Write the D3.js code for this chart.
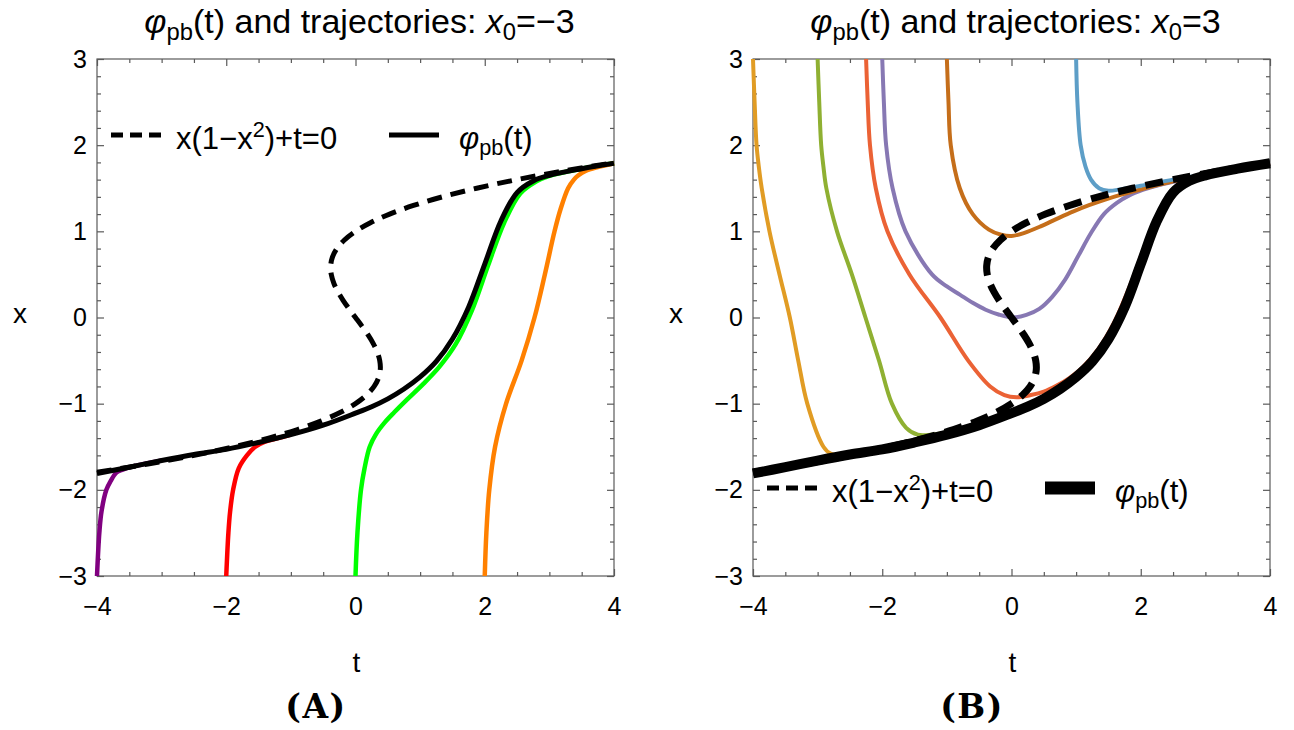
<!DOCTYPE html>
<html>
<head>
<meta charset="utf-8">
<script src="https://cdn.jsdelivr.net/npm/d3@7"></script>
<style>
body { margin: 0; background: white; }
</style>
</head>
<body>
<div id="main"></div>
<script>
// tick values
const tMajor = [-4, -2, 0, 2, 4];
const tMinor = [-3.5, -3, -2.5, -1.5, -1, -0.5, 0.5, 1, 1.5, 2.5, 3, 3.5];
const xMajor = [-3, -2, -1, 0, 1, 2, 3];
const xMinor = [-2.8, -2.6, -2.4, -2.2, -1.8, -1.6, -1.4, -1.2, -0.8, -0.6, -0.4, -0.2,
                0.2, 0.4, 0.6, 0.8, 1.2, 1.4, 1.6, 1.8, 2.2, 2.4, 2.6, 2.8];

// curves as [t, x] points
const criticalCurve = [[-4.0,-1.796],[-3.213,-1.7],[-2.496,-1.6],[-1.875,-1.5],[-1.344,-1.4],[-0.897,-1.3],
    [-0.528,-1.2],[-0.231,-1.1],[0,-1],[0.171,-0.9],[0.288,-0.8],[0.357,-0.7],[0.384,-0.6],[0.375,-0.5],
    [0.336,-0.4],[0.273,-0.3],[0.192,-0.2],[0.099,-0.1],[0,0],[-0.099,0.1],[-0.192,0.2],[-0.273,0.3],
    [-0.336,0.4],[-0.375,0.5],[-0.384,0.6],[-0.357,0.7],[-0.288,0.8],[-0.171,0.9],[0,1],[0.231,1.1],
    [0.528,1.2],[0.897,1.3],[1.344,1.4],[1.875,1.5],[2.496,1.6],[3.213,1.7],[4.0,1.796]];

const pullbackCurve = [[-4,-1.81],[-3.5,-1.737],[-3,-1.66],[-2.5,-1.59],[-2,-1.53],[-1.5,-1.45],[-1,-1.36],
    [-0.5,-1.25],[0,-1.11],[0.25,-1.035],[0.5,-0.944],[0.75,-0.83],[1,-0.69],[1.25,-0.51],[1.5,-0.25],
    [1.75,0.12],[2,0.62],[2.25,1.12],[2.5,1.45],[2.75,1.585],[3,1.65],[3.5,1.727],[4,1.79]];

// panel A: x0 = -3
const trajPurpleA = [[-4,-3],[-3.964,-2.5],[-3.93,-2.25],[-3.855,-2],[-3.79,-1.9],[-3.7,-1.8],[-3.6,-1.765],
    [-3.5,-1.74],[-3,-1.66]];
const trajRedA = [[-2,-3],[-1.967,-2.5],[-1.94,-2.25],[-1.894,-2],[-1.807,-1.75],[-1.68,-1.6],[-1.55,-1.5],
    [-1.4,-1.44],[-1.2,-1.4],[-1,-1.36]];
const trajGreenA = [[0,-3],[0.03,-2.5],[0.085,-2],[0.14,-1.75],[0.22,-1.5],[0.32,-1.35],[0.45,-1.22],[0.6,-1.1],
    [0.8,-0.95],[1.05,-0.77],[1.3,-0.57],[1.55,-0.31],[1.8,0.08],[2.05,0.6],[2.3,1.1],[2.55,1.44],[2.8,1.58],
    [3,1.645],[3.5,1.727],[4,1.79]];
const trajOrangeA = [[2,-3],[2.025,-2.5],[2.07,-2],[2.16,-1.5],[2.33,-1],[2.57,-0.5],[2.77,0],[2.93,0.5],[3.08,1],
    [3.17,1.25],[3.29,1.5],[3.38,1.6],[3.45,1.65],[3.56,1.7],[3.75,1.745],[4,1.79]];

// panel B: x0 = 3
const trajYellowB = [[-4,3],[-3.975,2.5],[-3.945,2],[-3.91,1.75],[-3.865,1.5],[-3.745,1],[-3.59,0.5],[-3.43,0],
    [-3.3,-0.5],[-3.16,-1],[-2.91,-1.5],[-2.8,-1.58],[-2.6,-1.6],[-2.3,-1.57],[-2,-1.52]];
const trajGreenB = [[-3,3],[-2.975,2.5],[-2.945,2],[-2.91,1.75],[-2.865,1.5],[-2.7,1],[-2.47,0.5],[-2.26,0],
    [-2.05,-0.5],[-1.85,-1],[-1.63,-1.28],[-1.45,-1.36],[-1.25,-1.36],[-1,-1.33]];
const trajRedB = [[-2.25,3],[-2.225,2.5],[-2.19,2],[-2.1,1.5],[-1.92,1],[-1.58,0.5],[-1.1,0],[-0.67,-0.5],
    [-0.33,-0.8],[-0.11,-0.9],[0.08,-0.925],[0.3,-0.9],[0.5,-0.86],[0.7,-0.79],[0.9,-0.7],[1.1,-0.58],
    [1.35,-0.36],[1.6,-0.04],[1.85,0.4],[2.1,0.9],[2.35,1.3],[2.6,1.52],[2.9,1.63],[3.5,1.727],[4,1.79]];
const trajPurpleB = [[-2,3],[-1.975,2.5],[-1.94,2],[-1.84,1.5],[-1.64,1],[-1.23,0.5],[-1.0,0.36],[-0.8,0.265],
    [-0.6,0.17],[-0.4,0.09],[-0.2,0.035],[0.03,0],[0.23,0.03],[0.43,0.1],[0.63,0.24],[0.83,0.44],[1.03,0.71],
    [1.23,0.98],[1.43,1.2],[1.63,1.33],[1.83,1.42],[2.03,1.48],[2.3,1.54],[2.6,1.59],[3,1.65],[3.5,1.727],[4,1.79]];
const trajBrownB = [[-1,3],[-0.975,2.5],[-0.94,2],[-0.8,1.5],[-0.6,1.2],[-0.35,1.02],[-0.16,0.96],[0,0.945],
    [0.2,0.983],[0.45,1.058],[0.7,1.145],[0.95,1.229],[1.2,1.304],[1.45,1.369],[1.7,1.426],[1.95,1.477],
    [2.2,1.525],[2.5,1.58],[3,1.65],[3.5,1.727],[4,1.79]];
const trajBlueB = [[1,3],[1.02,2.5],[1.07,2],[1.145,1.75],[1.23,1.6],[1.355,1.5],[1.5,1.47],[1.7,1.49],[2,1.53],
    [2.5,1.6],[3,1.66],[3.5,1.73],[4,1.79]];

const ctx = {
    width : 1294,
    height : 730,
    plotSize : 517,
    plotTop : 59,
    font : "'Liberation Sans', Arial, Helvetica, sans-serif",
    frameColor : "#5a5a5a",
    majorTick : 7,
    minorTick : 4
};

const panels = [
    {
        left : 97, x0 : "−3", letter : "(A)",
        trajectories : [
            {data : trajPurpleA, color : "#800080"},
            {data : trajRedA, color : "#ff0000"},
            {data : trajGreenA, color : "#00ff00"},
            {data : trajOrangeA, color : "#ff8000"}
        ],
        trajWidth : 4.5, dashWidth : 5, dash : "15,9", blackWidth : 5,
        legendY : 76, legendSolidWidth : 5
    },
    {
        left : 753, x0 : "3", letter : "(B)",
        trajectories : [
            {data : trajYellowB, color : "#e19c24"},
            {data : trajGreenB, color : "#8fb032"},
            {data : trajRedB, color : "#eb6235"},
            {data : trajPurpleB, color : "#8778b3"},
            {data : trajBrownB, color : "#c56e1a"},
            {data : trajBlueB, color : "#5d9ec7"}
        ],
        trajWidth : 4, dashWidth : 7, dash : "18,10", blackWidth : 10,
        legendY : 429, legendSolidWidth : 13
    }
];

function fmt(d){
    return d < 0 ? "\u2212" + Math.abs(d) : String(d);
}

function createViz(){
    let svg = d3.select("#main").append("svg")
        .attr("width", ctx.width)
        .attr("height", ctx.height);
    svg.append("rect")
        .attr("width", ctx.width)
        .attr("height", ctx.height)
        .attr("fill", "white");
    panels.forEach(p => drawPanel(svg, p));
}

function styleAxis(sel){
    sel.select(".domain").remove();
    sel.selectAll("line").attr("stroke", ctx.frameColor).attr("stroke-width", 1.2);
    sel.selectAll("text")
        .attr("font-family", ctx.font)
        .attr("font-size", 25)
        .attr("fill", "black");
}

function drawTicks(g, xs, ys){
    const s = ctx.plotSize;
    // bottom
    g.append("g").attr("transform", `translate(0,${s})`)
        .call(d3.axisBottom(xs).tickValues(tMajor).tickSizeInner(-ctx.majorTick).tickSizeOuter(0).tickPadding(21).tickFormat(fmt))
        .call(styleAxis);
    g.append("g").attr("transform", `translate(0,${s})`)
        .call(d3.axisBottom(xs).tickValues(tMinor).tickSizeInner(-ctx.minorTick).tickSizeOuter(0).tickFormat(""))
        .call(styleAxis);
    // top
    g.append("g")
        .call(d3.axisTop(xs).tickValues(tMajor).tickSizeInner(-ctx.majorTick).tickSizeOuter(0).tickFormat(""))
        .call(styleAxis);
    g.append("g")
        .call(d3.axisTop(xs).tickValues(tMinor).tickSizeInner(-ctx.minorTick).tickSizeOuter(0).tickFormat(""))
        .call(styleAxis);
    // left
    g.append("g")
        .call(d3.axisLeft(ys).tickValues(xMajor).tickSizeInner(-ctx.majorTick).tickSizeOuter(0).tickPadding(10).tickFormat(fmt))
        .call(styleAxis);
    g.append("g")
        .call(d3.axisLeft(ys).tickValues(xMinor).tickSizeInner(-ctx.minorTick).tickSizeOuter(0).tickFormat(""))
        .call(styleAxis);
    // right
    g.append("g").attr("transform", `translate(${s},0)`)
        .call(d3.axisRight(ys).tickValues(xMajor).tickSizeInner(-ctx.majorTick).tickSizeOuter(0).tickFormat(""))
        .call(styleAxis);
    g.append("g").attr("transform", `translate(${s},0)`)
        .call(d3.axisRight(ys).tickValues(xMinor).tickSizeInner(-ctx.minorTick).tickSizeOuter(0).tickFormat(""))
        .call(styleAxis);
}

function addPhi(text, size){
    text.append("tspan").attr("font-style", "italic").text("φ");
    text.append("tspan").attr("font-size", size * 0.7).attr("dy", size * 0.2).text("pb");
    text.append("tspan").attr("font-size", size).attr("dy", -size * 0.2).text("(t)");
}

function drawPanel(svg, p){
    const s = ctx.plotSize;
    let g = svg.append("g").attr("transform", `translate(${p.left}, ${ctx.plotTop})`);
    let xs = d3.scaleLinear().domain([-4, 4]).range([0, s]);
    let ys = d3.scaleLinear().domain([-3, 3]).range([s, 0]);
    let line = d3.line()
        .x(d => xs(d[0]))
        .y(d => ys(d[1]))
        .curve(d3.curveCatmullRom.alpha(0.5));

    g.append("rect")
        .attr("width", s)
        .attr("height", s)
        .attr("fill", "none")
        .attr("stroke", ctx.frameColor)
        .attr("stroke-width", 1.2);
    drawTicks(g, xs, ys);

    p.trajectories.forEach(tr => {
        g.append("path")
            .attr("d", line(tr.data))
            .attr("fill", "none")
            .attr("stroke", tr.color)
            .attr("stroke-width", p.trajWidth);
    });
    g.append("path")
        .attr("d", line(criticalCurve))
        .attr("fill", "none")
        .attr("stroke", "black")
        .attr("stroke-width", p.dashWidth)
        .attr("stroke-dasharray", p.dash);
    g.append("path")
        .attr("d", line(pullbackCurve))
        .attr("fill", "none")
        .attr("stroke", "black")
        .attr("stroke-width", p.blackWidth);

    // legend
    const ly = p.legendY, lsize = 31;
    g.append("line")
        .attr("x1", 14).attr("x2", 64).attr("y1", ly).attr("y2", ly)
        .attr("stroke", "black").attr("stroke-width", 5).attr("stroke-dasharray", "12,7");
    let eq = g.append("text")
        .attr("x", 79).attr("y", ly + 14)
        .attr("font-family", ctx.font).attr("font-size", lsize);
    eq.append("tspan").text("x(1−x");
    eq.append("tspan").attr("font-size", lsize * 0.7).attr("dy", -lsize * 0.38).text("2");
    eq.append("tspan").attr("font-size", lsize).attr("dy", lsize * 0.38).text(")+t=0");
    g.append("line")
        .attr("x1", 292).attr("x2", 342).attr("y1", ly).attr("y2", ly)
        .attr("stroke", "black").attr("stroke-width", p.legendSolidWidth);
    let ph = g.append("text")
        .attr("x", 362).attr("y", ly + 14)
        .attr("font-family", ctx.font).attr("font-size", lsize);
    addPhi(ph, lsize);

    // title
    const tsize = 34;
    let title = g.append("text")
        .attr("x", s / 2 + 4).attr("y", 33 - ctx.plotTop)
        .attr("text-anchor", "middle")
        .attr("font-family", ctx.font).attr("font-size", tsize);
    addPhi(title, tsize);
    title.append("tspan").text(" and trajectories: ");
    title.append("tspan").attr("font-style", "italic").text("x");
    title.append("tspan").attr("font-size", tsize * 0.7).attr("dy", tsize * 0.2).text("0");
    title.append("tspan").attr("font-size", tsize).attr("dy", -tsize * 0.2).text("=" + p.x0);

    // axis labels
    g.append("text")
        .attr("x", s / 2 + 1).attr("y", 613)
        .attr("text-anchor", "middle")
        .attr("font-family", ctx.font).attr("font-size", 28)
        .text("t");
    g.append("text")
        .attr("x", -77).attr("y", 264)
        .attr("text-anchor", "middle")
        .attr("font-family", ctx.font).attr("font-size", 28)
        .text("x");

    // panel letter
    g.append("text")
        .attr("x", 219).attr("y", 659)
        .attr("text-anchor", "middle")
        .attr("font-family", "'DejaVu Serif', serif")
        .attr("font-weight", "bold")
        .attr("font-size", 33)
        .attr("letter-spacing", 1.5)
        .text(p.letter);
}

createViz();
</script>
</body>
</html>
